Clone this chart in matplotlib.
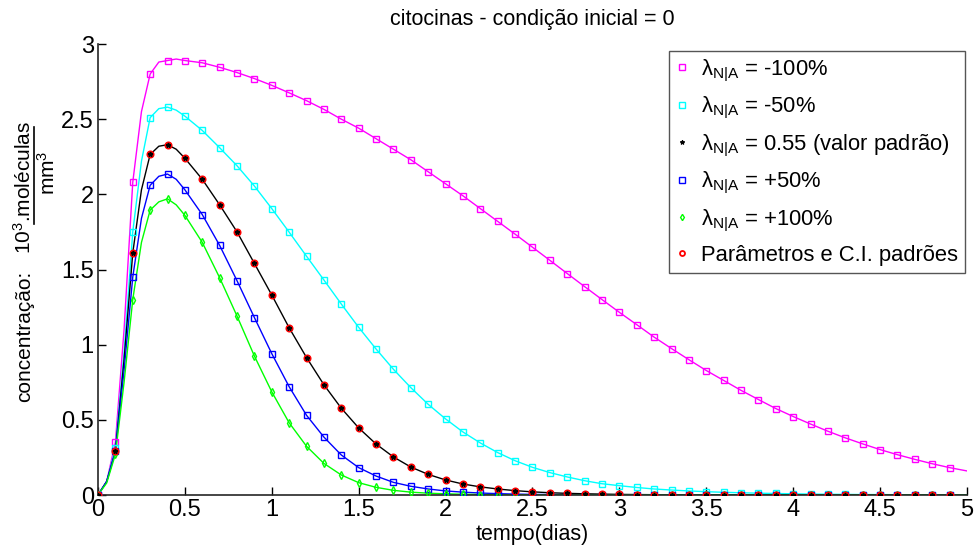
import numpy as np
import matplotlib
matplotlib.use("Agg")
import matplotlib.pyplot as plt
from matplotlib.lines import Line2D

plt.rcParams['font.family'] = ['Liberation Sans', 'DejaVu Sans']
plt.rcParams['mathtext.fontset'] = 'custom'
plt.rcParams['mathtext.rm'] = 'Liberation Sans'
plt.rcParams['mathtext.it'] = 'Liberation Sans:italic'
plt.rcParams['mathtext.default'] = 'regular'

# ---------------- data ----------------
t_markers = [round(0.1 * i, 1) for i in range(50)]          # 0.0 ... 4.9
t_extra = [0.05, 0.15, 0.25, 0.35, 0.45, 5.0]             # extra points read for the lines

magenta = [0.0, 0.35, 2.08, 2.80, 2.89, 2.89, 2.875, 2.845, 2.81, 2.77,
           2.725, 2.675, 2.623, 2.565, 2.50, 2.44, 2.37, 2.30, 2.23, 2.15,
           2.07, 1.99, 1.905, 1.82, 1.735, 1.648, 1.561, 1.473, 1.386, 1.30,
           1.215, 1.133, 1.05, 0.974, 0.90, 0.828, 0.762, 0.696, 0.635, 0.575,
           0.522, 0.472, 0.424, 0.380, 0.340, 0.302, 0.268, 0.237, 0.208, 0.182]
magenta_extra = [0.09, 1.10, 2.55, 2.88, 2.90, 0.160]

cyan = [0.0, 0.31, 1.75, 2.51, 2.58, 2.52, 2.425, 2.31, 2.19, 2.055,
        1.905, 1.748, 1.588, 1.43, 1.27, 1.115, 0.971, 0.836, 0.714, 0.603,
        0.506, 0.419, 0.346, 0.282, 0.228, 0.184, 0.149, 0.120, 0.095, 0.075,
        0.062, 0.050, 0.040, 0.033, 0.027, 0.022, 0.018, 0.015, 0.012, 0.010,
        0.008, 0.006, 0.005, 0.004, 0.003, 0.003, 0.002, 0.002, 0.001, 0.001]
cyan_extra = [0.09, 0.95, 2.22, 2.57, 2.56, 0.001]

black = [0.0, 0.29, 1.61, 2.265, 2.33, 2.24, 2.10, 1.93, 1.75, 1.54,
         1.33, 1.112, 0.914, 0.733, 0.577, 0.446, 0.339, 0.253, 0.186, 0.137,
         0.100, 0.073, 0.054, 0.040, 0.029, 0.021, 0.015, 0.011, 0.008, 0.006,
         0.004, 0.003, 0.002, 0.002, 0.001, 0.001, 0.001, 0.0, 0.0, 0.0,
         0.0, 0.0, 0.0, 0.0, 0.0, 0.0, 0.0, 0.0, 0.0, 0.0]
black_extra = [0.09, 0.90, 2.03, 2.32, 2.30, 0.0]

blue = [0.0, 0.29, 1.45, 2.06, 2.135, 2.03, 1.865, 1.66, 1.425, 1.18,
        0.94, 0.72, 0.53, 0.385, 0.266, 0.182, 0.126, 0.084, 0.058, 0.040,
        0.027, 0.019, 0.013, 0.009, 0.006, 0.004, 0.003, 0.002, 0.001, 0.001,
        0.0, 0.0, 0.0, 0.0, 0.0, 0.0, 0.0, 0.0, 0.0, 0.0,
        0.0, 0.0, 0.0, 0.0, 0.0, 0.0, 0.0, 0.0, 0.0, 0.0]
blue_extra = [0.09, 0.83, 1.84, 2.12, 2.10, 0.0]

green = [0.0, 0.27, 1.30, 1.895, 1.97, 1.86, 1.68, 1.445, 1.19, 0.924,
         0.686, 0.480, 0.324, 0.210, 0.133, 0.082, 0.051, 0.031, 0.019, 0.012,
         0.008, 0.005, 0.003, 0.002, 0.001, 0.0, 0.0, 0.0, 0.0, 0.0,
         0.0, 0.0, 0.0, 0.0, 0.0, 0.0, 0.0, 0.0, 0.0, 0.0,
         0.0, 0.0, 0.0, 0.0, 0.0, 0.0, 0.0, 0.0, 0.0, 0.0]
green_extra = [0.08, 0.75, 1.68, 1.95, 1.93, 0.0]

labels = [r'$\lambda_{N|A}$ = -100%', r'$\lambda_{N|A}$ = -50%',
          r'$\lambda_{N|A}$ = 0.55 (valor padrão)', r'$\lambda_{N|A}$ = +50%',
          r'$\lambda_{N|A}$ = +100%', 'Parâmetros e C.I. padrões']
x_ticks = [0, 0.5, 1, 1.5, 2, 2.5, 3, 3.5, 4, 4.5, 5]
x_ticklabels = ['0', '0.5', '1', '1.5', '2', '2.5', '3', '3.5', '4', '4.5', '5']
y_ticks = [0, 0.5, 1, 1.5, 2, 2.5, 3]
y_ticklabels = ['0', '0.5', '1', '1.5', '2', '2.5', '3']

# ---------------- figure ----------------
W, H = 978, 546
fig = plt.figure(figsize=(W / 100, H / 100), dpi=100)
ax = fig.add_axes([98 / W, 1 - 495 / H, (967 - 98) / W, (495 - 44) / H])


def line_xy(vals, extra):
    pts = sorted(list(zip(t_markers, vals)) + list(zip(t_extra, extra)))
    return [p[0] for p in pts], [p[1] for p in pts]


series = [
    (magenta, magenta_extra, '#FF00FF', 's', 5.0, 1.0),
    (cyan, cyan_extra, '#00FFFF', 's', 5.0, 1.0),
    (black, black_extra, '#000000', '*', 4.0, 0.8),
    (blue, blue_extra, '#0000FF', 's', 5.0, 1.0),
    (green, green_extra, '#00FF00', 'd', 4.0, 1.0),
]
handles = []
for vals, extra, col, mk, ms, mew in series:
    lx, ly = line_xy(vals, extra)
    ax.plot(lx, ly, color=col, lw=1.0, zorder=2)
    h, = ax.plot(t_markers, vals, linestyle='none', marker=mk, ms=ms,
                 mfc='none' if mk != '*' else col, mec=col, mew=mew, zorder=3)
    handles.append(h)

hr, = ax.plot(t_markers, black, linestyle='none', marker='o', ms=4.5,
              mfc='none', mec='#FF0000', mew=1.3, zorder=4)
handles.append(hr)
# black stars visible on top of the red circles
ax.plot(t_markers, black, linestyle='none', marker='*', ms=3.5,
        color='black', zorder=5)

ax.set_xlim(0, 5)
ax.set_ylim(0, 3)
ax.set_xticks(x_ticks)
ax.set_xticklabels(x_ticklabels)
ax.set_yticks(y_ticks)
ax.set_yticklabels(y_ticklabels)
ax.tick_params(direction='in', length=6, width=1, labelsize=17, pad=3,
               colors='black')
for s in ['top', 'right']:
    ax.spines[s].set_visible(False)
for s in ['left', 'bottom']:
    ax.spines[s].set_linewidth(1.2)
    ax.spines[s].set_color('#262626')

ax.set_title('citocinas - condição inicial = 0', fontsize=15.5, pad=14)
ax.set_xlabel('tempo(dias)', fontsize=15.5, labelpad=2)

# y label pieces
fig.text(30.5 / W, 1 - 336 / H, 'concentração:', rotation=90, rotation_mode='anchor',
         ha='center', va='baseline', fontsize=15)
fig.text(31 / W, 1 - 187 / H, r'10$^3$.moléculas', rotation=90, rotation_mode='anchor',
         ha='center', va='baseline', fontsize=15)
fig.add_artist(Line2D([33.5 / W, 33.5 / W], [1 - 127 / H, 1 - 224 / H],
                      transform=fig.transFigure, color='black', lw=1.2))
fig.text(55 / W, 1 - 173 / H, r'mm$^3$', rotation=90, rotation_mode='anchor',
         ha='center', va='baseline', fontsize=15)

leg = ax.legend(handles, labels, loc='upper right',
                bbox_to_anchor=((965 - 98) / 869, (495 - 51) / 451),
                borderaxespad=0, fontsize=15.8, frameon=True, fancybox=False,
                framealpha=1, edgecolor='#555555', handlelength=0.6,
                handletextpad=0.6, labelspacing=0.52, borderpad=0.3,
                markerscale=0.8)
leg.get_frame().set_linewidth(1.0)

fig.savefig('out.png', dpi=100)
